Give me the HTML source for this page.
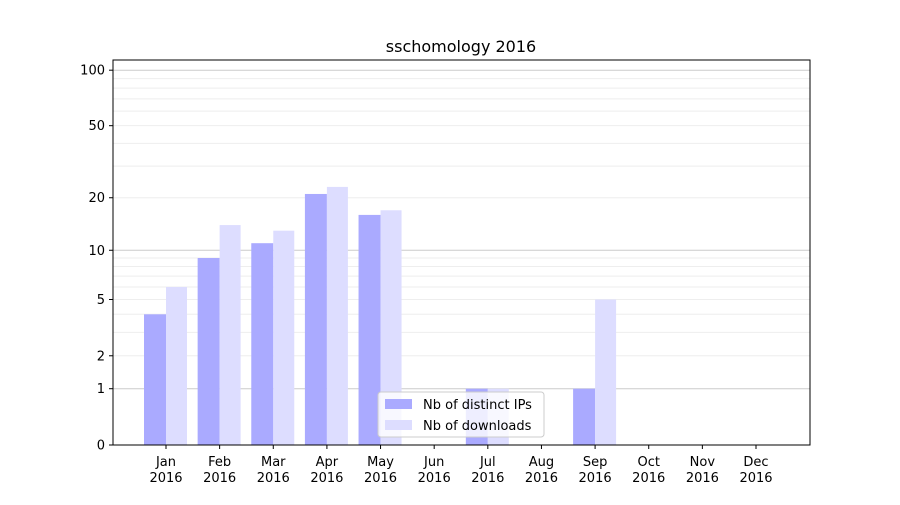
<!DOCTYPE html>
<html><head><meta charset="utf-8"><style>
body{margin:0;background:#fff;}
svg text{font-family:"DejaVu Sans","Liberation Sans",sans-serif;fill:#000;}
</style></head><body>
<svg id="c" width="900" height="500" xmlns="http://www.w3.org/2000/svg"></svg>
<script>
const months=["Jan","Feb","Mar","Apr","May","Jun","Jul","Aug","Sep","Oct","Nov","Dec"];
const ips=[4,9,11,21,16,0,1,0,1,0,0,0];
const downloads=[6,14,13,23,17,0,1,0,5,0,0,0];
const yTicks=[0,1,2,5,10,20,50,100];
const yearLabel="2016";
const NS="http://www.w3.org/2000/svg";
const svg=document.getElementById('c');
const L=113,R=810,T=60,B=445;
const yMax=(445-60)/187;
function y(v){return B-Math.log10(1+v)/yMax*(B-T);}
function xc(i){return 166+i*(756-166)/11;}
function el(tag,attrs,parent){const e=document.createElementNS(NS,tag);for(const k in attrs)e.setAttribute(k,attrs[k]);(parent||svg).appendChild(e);return e;}
// grid minor
const minors=[];
for(const d of [1,10,100]){for(let m=1;m<10;m++){const v=m*d;if(Math.log10(1+v)<=yMax)minors.push(v);}}
for(const v of minors){
  const major=(v===1||v===10||v===100);
  const g=el('line',{x1:L,x2:R,y1:y(v),y2:y(v),stroke:major?'#cccccc':'#eeeeee','stroke-width':1});
  
  
}
// bars
months.forEach((m,i)=>{
  if(ips[i]>0){const b=el('rect',{x:xc(i)-22,y:y(ips[i]),width:22,height:B-y(ips[i]),fill:'#aaaaff'});
    
    }
  if(downloads[i]>0){const b=el('rect',{x:xc(i),y:y(downloads[i]),width:21,height:B-y(downloads[i]),fill:'#ddddff'});
    
    }
});
// axes frame
const fr=el('rect',{x:L,y:T,width:R-L,height:B-T,fill:'none',stroke:'#000','stroke-width':1});


// y ticks
yTicks.forEach(v=>{
  el('line',{x1:L-4,x2:L,y1:y(v),y2:y(v),stroke:'#000'});
  const t=el('text',{x:L-8,y:y(v)+4.5,'text-anchor':'end','font-size':13});t.textContent=v;
  
  
});
// x ticks
months.forEach((m,i)=>{
  el('line',{x1:xc(i),x2:xc(i),y1:B,y2:B+4,stroke:'#000'});
  const t=el('text',{x:xc(i),y:466,'text-anchor':'middle','font-size':13});t.textContent=m;
  
  
  const t2=el('text',{x:xc(i),y:482,'text-anchor':'middle','font-size':13});t2.textContent=yearLabel;
  
  
});
// title
const ti=el('text',{x:461,y:52,'text-anchor':'middle','font-size':16});ti.textContent='sschomology 2016';


// legend
const lg=el('g',{});


el('rect',{x:378,y:392,width:166,height:45,rx:3,fill:'#fff','fill-opacity':0.8,stroke:'#cccccc'},lg);
el('rect',{x:385,y:399,width:27,height:10,fill:'#aaaaff'},lg);
el('rect',{x:385,y:420,width:27,height:10,fill:'#ddddff'},lg);
const l1=el('text',{x:423,y:409,'font-size':13},lg);l1.textContent='Nb of distinct IPs';


const l2=el('text',{x:423,y:430,'font-size':13},lg);l2.textContent='Nb of downloads';


</script>
</body></html>
